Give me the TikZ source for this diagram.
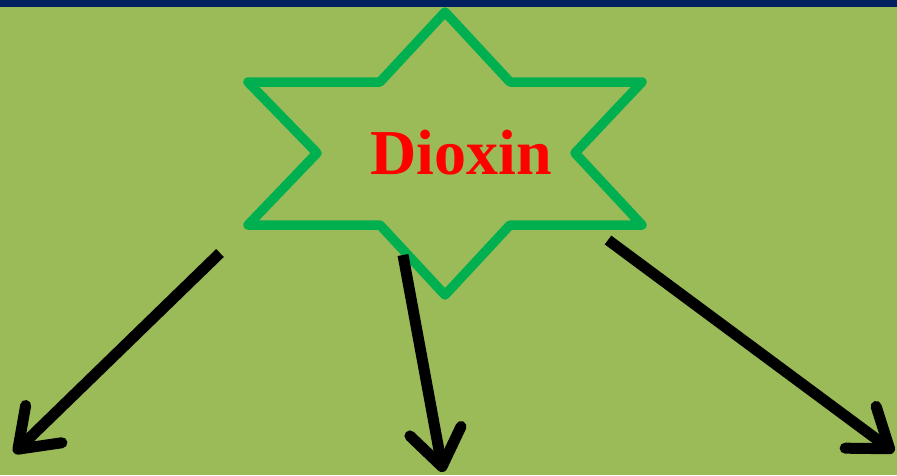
\documentclass[tikz,border=0pt]{standalone}
\usepackage{fontspec}
\setmainfont{Liberation Serif}
\usetikzlibrary{arrows.meta}
\definecolor{bgGreen}{RGB}{155,187,89}
\definecolor{topBar}{RGB}{0,32,96}
\definecolor{starGreen}{RGB}{0,176,80}
\tikzset{
  link/.style={line width=11pt,black,-{Straight Barb[length=36pt,width=52pt,round]}},
}
\begin{document}
\begin{tikzpicture}[x=1pt,y=-1pt]
  \fill[bgGreen] (0,0) rectangle (897,475);
  \useasboundingbox (0,0) rectangle (897,475);
  % star outline
  \draw[starGreen,line width=9.5pt,line join=round,line cap=round]
    (445,12) -- (510,82) -- (642,82) -- (575,153) -- (642,225) -- (510,225)
    -- (445,295) -- (380,225) -- (248,225) -- (317,153) -- (248,82) -- (380,82) -- cycle;
  \fill[topBar] (0,0) rectangle (897,7);
  \node[font=\bfseries\fontsize{64}{70}\selectfont,text=red] (dioxin) at (461,153) {Dioxin};
  % arrow ends
  \coordinate (a1) at (220,253);
  \coordinate (b1) at (14,453);
  \coordinate (a2) at (403,255);
  \coordinate (b2) at (443,472);
  \coordinate (a3) at (608,240);
  \coordinate (b3) at (894,452);
  \draw[link] (a1) -- (b1);
  \draw[link] (a2) -- (b2);
  \draw[link] (a3) -- (b3);
\end{tikzpicture}
\end{document}
